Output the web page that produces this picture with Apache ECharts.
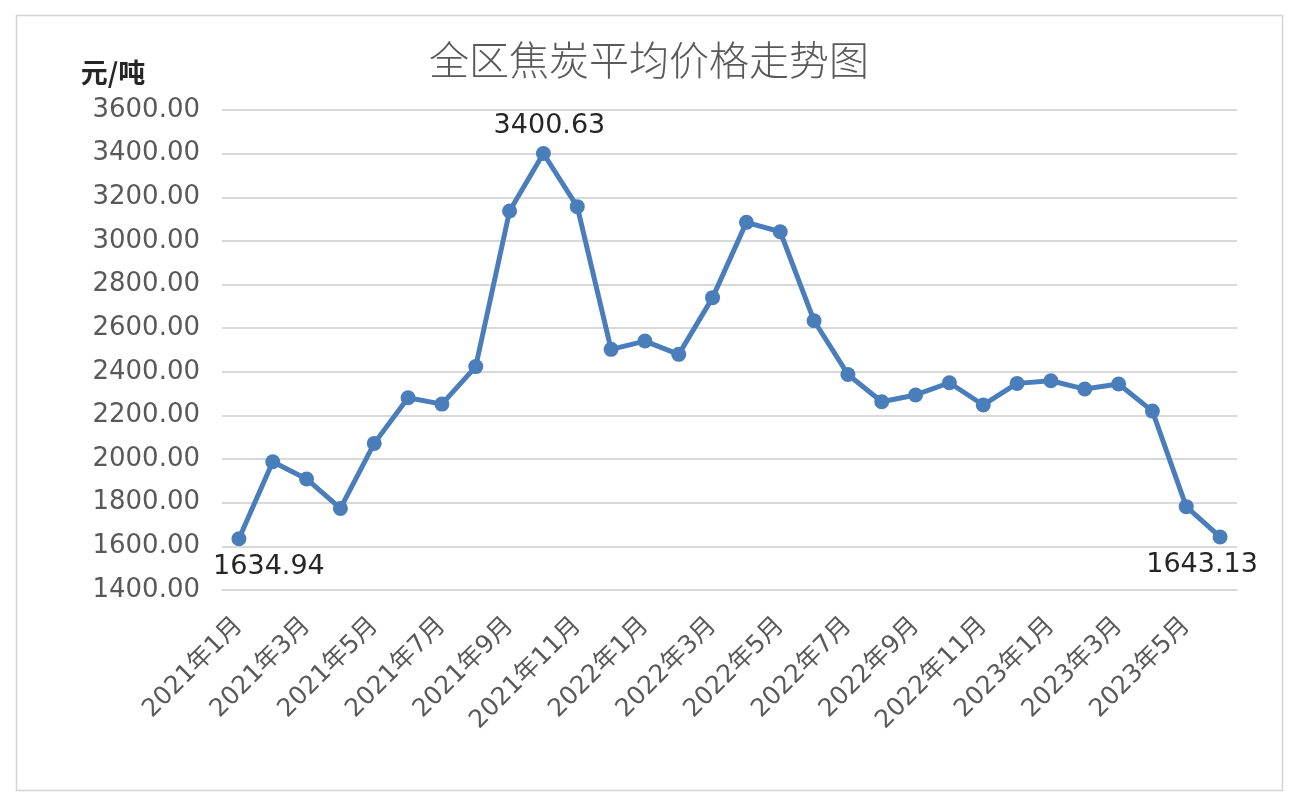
<!DOCTYPE html>
<html lang="zh-CN">
<head>
    <meta charset="UTF-8">
    <title>全区焦炭平均价格走势图</title>
    <style>
        html, body { margin: 0; padding: 0; background: #fff; }
    </style>
</head>
<body>
    <div id="main" style="width:1298px;height:800px;"></div>
    <script src="https://cdn.jsdelivr.net/npm/echarts@6/dist/echarts.min.js"></script>
    <script>
        // 月份
        var months = ['2021年1月', '2021年2月', '2021年3月', '2021年4月', '2021年5月', '2021年6月',
            '2021年7月', '2021年8月', '2021年9月', '2021年10月', '2021年11月', '2021年12月',
            '2022年1月', '2022年2月', '2022年3月', '2022年4月', '2022年5月', '2022年6月',
            '2022年7月', '2022年8月', '2022年9月', '2022年10月', '2022年11月', '2022年12月',
            '2023年1月', '2023年2月', '2023年3月', '2023年4月', '2023年5月', '2023年6月'];
        // 焦炭均价（元/吨）
        var prices = [1634.94, 1988, 1909, 1774, 2072, 2281,
            2252, 2424, 3137, 3400.63, 3157, 2503,
            2541, 2480, 2740, 3085, 3042, 2634,
            2388, 2263, 2294, 2350, 2248, 2347,
            2359, 2321, 2344, 2220, 1782, 1643.13];
        // 需要标注数值的点 [下标, 位置, 偏移]
        var labelled = [
            [0, 'bottom', [30, 2]],
            [9, 'top', [6, -2]],
            [29, 'bottom', [-18, 2]]
        ];

        var numFont = "'DejaVu Sans', 'Noto Sans CJK SC', sans-serif";
        var cjkFont = "'Noto Sans CJK SC', 'DejaVu Sans', sans-serif";

        var seriesData = prices.map(function (v, i) {
            var item = { value: v };
            labelled.forEach(function (l) {
                if (l[0] === i) {
                    item.label = {
                        show: true,
                        position: l[1],
                        offset: l[2],
                        formatter: function (p) { return p.value.toFixed(2); },
                        color: '#262626',
                        fontSize: 27,
                        fontFamily: numFont
                    };
                }
            });
            return item;
        });

        var myChart = echarts.init(document.getElementById('main'));
        var option = {
            backgroundColor: '#fff',
            animation: false,
            title: {
                text: '全区焦炭平均价格走势图',
                left: 'center',
                top: 35,
                textStyle: {
                    color: '#595959',
                    fontSize: 40,
                    fontWeight: 300,
                    fontFamily: cjkFont
                }
            },
            graphic: [{
                type: 'rect',
                left: 14,
                top: 13,
                shape: { width: 1266, height: 775 },
                style: { fill: 'none', stroke: '#d4d4d4', lineWidth: 1.5 },
                silent: true
            }],
            grid: {
                left: 222,
                right: 61,
                top: 110,
                bottom: 210
            },
            xAxis: {
                type: 'category',
                data: months,
                boundaryGap: true,
                axisLine: { show: true, lineStyle: { color: '#d9d9d9', width: 2 } },
                axisTick: { show: false },
                axisLabel: {
                    interval: 1,
                    rotate: 45,
                    margin: 32,
                    color: '#595959',
                    fontSize: 25,
                    fontFamily: numFont
                }
            },
            yAxis: {
                type: 'value',
                min: 1400,
                max: 3600,
                interval: 200,
                name: '元/吨',
                nameLocation: 'end',
                nameGap: 24,
                nameTextStyle: {
                    color: '#262626',
                    fontSize: 27,
                    fontWeight: 'bold',
                    fontFamily: cjkFont,
                    align: 'center',
                    padding: [0, 0, 0, -218]
                },
                axisLine: { show: false },
                axisTick: { show: false },
                splitLine: { lineStyle: { color: '#d9d9d9', width: 2 } },
                axisLabel: {
                    margin: 22,
                    color: '#595959',
                    fontSize: 26,
                    fontFamily: numFont,
                    formatter: function (v) { return v.toFixed(2); }
                }
            },
            series: [{
                name: '焦炭平均价格',
                type: 'line',
                data: seriesData,
                symbol: 'circle',
                symbolSize: 15,
                lineStyle: { color: '#4a7ebb', width: 5 },
                itemStyle: { color: '#4a7ebb' }
            }]
        };
        myChart.setOption(option);
    </script>
</body>
</html>
